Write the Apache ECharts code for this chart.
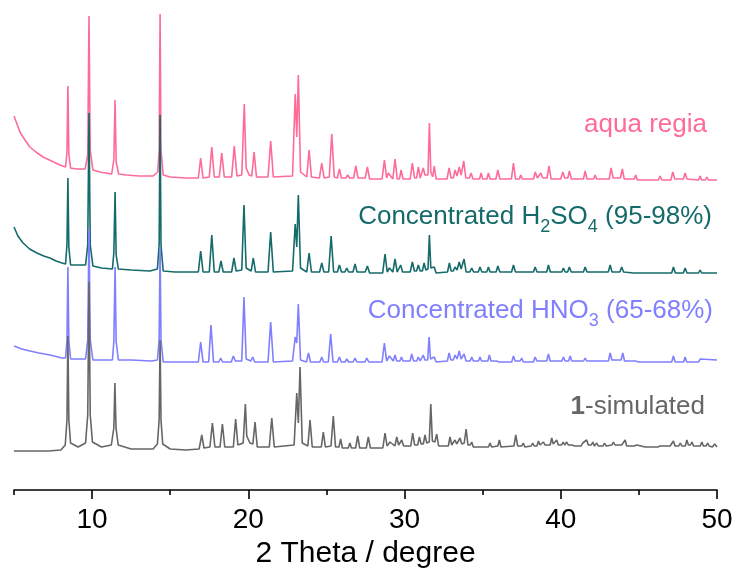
<!DOCTYPE html>
<html>
<head>
<meta charset="utf-8">
<title>PXRD</title>
<script src="https://cdn.jsdelivr.net/npm/echarts@6/dist/echarts.min.js"></script>
<style>
  html, body { margin: 0; padding: 0; background: #fff; }
  #chart { width: 739px; height: 576px; }
</style>
</head>
<body>
<div id="chart"></div>
<script>
// 2 theta ticks
const majorTicks = [10, 20, 30, 40, 50]
const minorTicks = [5, 15, 25, 35, 45]

// patterns as [2theta, intensity], already offset for stacking
const aquaRegia = [[5.0,374],[5.19,366],[5.38,358],[5.7,350],[6.02,343],[6.4,338],[6.86,333],[7.4,329],[7.94,325],[8.3,323],[8.39,338],[8.45,404],[8.51,336],[8.62,322],
  [9.0,321],[9.55,321],[9.72,335],[9.8,474],[9.88,340],[10.05,320],[10.5,318],
  [11.25,316],[11.39,330],[11.47,390],[11.54,328],[11.7,316],[12.2,315],[13.0,314],[13.9,314],[14.2,318],[14.29,340],[14.35,476],[14.41,340],[14.55,315],[15.0,313],[16.0,312],[16.8,312],
  [16.95,332],[17.1,312],[17.5,313],[17.66,343],[17.82,313],[18.14,313],[18.3,337],[18.46,313],[18.93,313],[19.1,344],[19.27,314],[19.58,315],[19.74,386],[19.86,322],[19.94,323],[20.05,315],[20.22,314],[20.37,338],[20.52,313],[21.26,313],[21.43,349],[21.6,313],[22.83,314],[23.0,396],[23.1,353],[23.2,415],[23.34,318],[23.74,313],[23.89,340],[24.04,313],[24.55,312],[24.7,327],[24.85,312],[25.18,313],[25.34,356],[25.5,313],[25.7,312],[25.83,321],[25.96,312],[26.24,312],[26.36,315],[26.48,312],[26.74,312],[26.88,324],[27.02,312],[27.48,312],[27.62,323],[27.76,311],[28.56,311],
  [28.71,330],[28.85,312],[28.96,317],[29.25,311],[29.39,331],[29.53,311],[29.67,311],[29.78,320],[29.9,311],[30.36,311],[30.5,327],[30.64,312],[30.77,312],[30.88,323],[31.0,312],[31.1,313],[31.2,322],[31.3,315],[31.5,315],[31.59,367],[31.68,318],[31.8,313],[31.9,324],[32.02,311],[32.72,311],[32.85,322],[32.98,312],[33.12,312],[33.23,320],[33.36,314],[33.5,323],[33.62,315],[33.79,329],[33.92,312],[34.15,312],[34.26,317],[34.38,311],[34.8,311],[34.9,317],[35.0,311],[35.27,311],[35.37,317],[35.47,311],[35.85,311],[35.97,320],[36.1,311],[36.84,311],[36.97,327],[37.1,311],[37.35,311],[37.44,315],[37.55,311],[38.25,311],[38.37,318],[38.5,312],[38.62,312],[38.72,317],[38.85,312],[39.12,312],[39.25,324],[39.38,311],[40.0,311],[40.13,318],[40.25,312],[40.45,312],[40.55,319],[40.68,311],[41.45,311],[41.56,319],[41.68,311],[42.1,311],[42.2,315],[42.3,311],[43.1,311],[43.22,322],[43.35,312],[43.82,312],[43.94,321],[44.06,311],[44.7,311],[44.8,315],[44.9,310],[46.25,310],[46.36,314],[46.47,310],[47.05,310],[47.17,318],[47.3,311],[47.85,311],[47.96,317],[48.08,311],[48.82,310],[48.92,314],[49.02,310],[49.25,310],[49.35,313],[49.45,310],[50.0,310]]

const h2so4 = [[5.0,263],[5.25,254],[5.58,247],[6.0,241],[6.47,237],[6.9,234],[7.3,232],[7.7,229],[8.07,227],[8.3,226],[8.39,245],[8.45,312],[8.51,243],[8.62,225],[9.1,225],[9.58,225],[9.72,245],[9.8,377],[9.88,245],[10.05,224],[10.6,222],[11.3,221],[11.39,237],[11.47,298],[11.54,235],[11.68,221],[12.5,220],[13.7,219],[14.18,221],[14.29,245],[14.35,375],[14.41,245],[14.55,219],[15.3,218],[16.8,218],
  [16.95,239],[17.1,218],[17.5,218],[17.66,255],[17.82,218],[18.11,218],[18.25,229],[18.39,218],[18.93,218],[19.08,232],[19.22,219],[19.58,220],[19.72,285],[19.86,222],[20.18,219],[20.32,232],[20.46,218],[21.26,218],[21.43,258],[21.6,218],[22.83,219],[23.0,266],[23.1,243],[23.2,295],[23.34,222],[23.74,218],[23.89,237],[24.04,218],[24.56,218],[24.7,227],[24.84,218],[25.14,218],[25.3,254],[25.46,218],[25.7,218],[25.83,225],[25.96,218],[26.18,218],[26.3,222],[26.42,218],[26.7,218],[26.83,226],[26.96,218],[27.48,218],[27.62,224],[27.76,217],[28.6,217],
  [28.75,236],[28.89,218],[29.03,222],[29.25,218],[29.39,231],[29.53,218],[29.64,218],[29.75,225],[29.87,218],[30.36,218],[30.5,228],[30.63,219],[30.77,219],[30.88,225],[31.0,219],[31.14,219],[31.25,227],[31.36,220],[31.5,221],[31.59,255],[31.68,222],[31.9,223],[32.02,217],[32.75,218],[32.87,227],[32.98,219],[33.12,219],[33.23,223],[33.36,220],[33.5,228],[33.62,221],[33.81,231],[33.94,218],[34.18,218],[34.3,222],[34.42,218],[34.72,218],[34.83,223],[34.95,218],[35.26,218],[35.37,223],[35.48,218],[35.86,218],[35.97,224],[36.1,218],[36.85,218],[36.97,225],[37.1,218],[38.25,218],[38.36,223],[38.48,218],[39.1,218],[39.21,225],[39.33,218],[40.06,218],[40.17,222],[40.28,218],[40.44,218],[40.55,223],[40.67,218],[41.45,218],[41.56,223],[41.68,218],[43.04,218],[43.16,225],[43.28,218],[43.78,218],[43.9,223],[44.02,218],[44.65,217],[44.76,219],[44.87,217],[47.1,217],[47.21,223],[47.33,217],[47.85,217],[47.96,222],[48.08,217],[48.82,217],[48.92,220],[49.02,217],[50.0,217]]

const hno3 = [[5.0,144],[5.5,141],[6.02,139],[6.6,137],[7.3,135],[8.07,132],[8.3,132],[8.39,150],[8.45,223],[8.51,150],[8.62,131],[9.1,131],[9.58,131],[9.72,150],[9.8,262],[9.88,150],[10.05,130],[10.6,130],[11.3,130],[11.39,148],[11.47,223],[11.54,148],[11.68,130],[12.5,130],[13.8,129],[14.18,130],[14.29,150],[14.35,243],[14.41,150],[14.55,128],[15.3,128],[16.8,128],
  [16.95,148],[17.1,128],[17.46,128],[17.61,165],[17.77,128],[18.11,128],[18.23,132],[18.35,128],[18.91,128],[19.04,134],[19.17,129],[19.58,129],[19.72,193],[19.86,131],[20.16,129],[20.28,133],[20.41,128],[21.26,128],[21.43,168],[21.6,128],[22.83,129],[23.0,153],[23.1,147],[23.2,186],[23.34,130],[23.72,128],[23.85,137],[23.98,128],[24.58,128],[24.7,133],[24.82,128],[25.12,128],[25.27,156],[25.42,128],[25.7,128],[25.83,133],[25.95,128],[26.19,128],[26.3,131],[26.41,128],[26.71,128],[26.83,132],[26.95,128],[27.46,128],[27.58,132],[27.71,128],[28.56,128],
  [28.71,147],[28.85,129],[29.03,134],[29.28,129],[29.39,135],[29.5,129],[29.7,129],[29.8,133],[29.9,129],[30.35,129],[30.46,136],[30.58,129],[30.78,129],[30.88,133],[31.0,129],[31.1,129],[31.2,135],[31.3,130],[31.48,130],[31.57,153],[31.66,131],[31.9,133],[32.02,128],[32.74,129],[32.85,137],[32.97,130],[33.12,130],[33.23,135],[33.36,131],[33.5,139],[33.62,131],[33.81,136],[33.94,129],[34.2,129],[34.3,133],[34.4,129],[34.73,129],[34.83,133],[34.93,129],[35.33,129],[35.43,135],[35.53,129],[35.87,129],[35.97,131],[36.07,128],[36.86,128],[36.97,134],[37.08,129],[37.4,129],[37.5,132],[37.6,128],[38.25,128],[38.36,133],[38.47,129],[39.1,129],[39.21,136],[39.32,129],[40.07,129],[40.17,133],[40.28,129],[40.5,129],[40.6,134],[40.7,129],[41.46,129],[41.56,132],[41.66,129],[43.05,129],[43.16,137],[43.27,130],[43.86,130],[43.97,137],[44.08,129],[44.78,129],[44.87,130],[44.96,128],[47.1,128],[47.21,134],[47.32,128],[47.86,128],[47.96,133],[48.06,128],[48.82,128],[48.92,131],[49.02,129],[50.0,130]]

const simulated = [[5.0,39],[7.2,39],[8.0,40],[8.28,45],[8.39,70],[8.45,154],[8.51,70],[8.62,47],[9.1,43],[9.58,47],[9.72,75],[9.8,208],[9.88,75],[10.02,48],[10.6,43],[11.23,45],[11.39,62],[11.46,107],[11.53,62],[11.67,45],[12.5,41],[13.9,41],[14.18,46],[14.29,70],[14.35,150],[14.41,70],[14.52,46],[15.0,41],[16.0,40],[16.85,41],
  [17.02,55],[17.16,42],[17.54,43],[17.7,67],[17.86,43],[18.19,43],[18.34,66],[18.49,43],[19.04,43],[19.19,71],[19.33,45],[19.67,47],[19.81,86],[19.9,54],[20.0,53],[20.1,47],[20.29,46],[20.43,68],[20.57,43],[21.34,43],[21.5,72],[21.66,43],[22.93,45],[23.1,97],[23.2,67],[23.31,123],[23.45,47],[23.81,44],[23.95,70],[24.09,43],[24.67,43],[24.8,58],[24.93,43],[25.29,44],[25.44,74],[25.58,43],[25.8,43],[25.91,51],[26.02,42],[26.4,42],[26.5,47],[26.6,42],[26.87,42],[27.0,54],[27.13,42],[27.55,42],[27.68,53],[27.81,42],[28.61,42],
  [28.75,57],[28.88,44],[29.07,48],[29.38,44],[29.5,53],[29.62,45],[29.72,45],[29.82,50],[29.94,44],[30.4,44],[30.52,57],[30.64,45],[30.84,45],[30.95,53],[31.06,46],[31.2,46],[31.31,55],[31.42,47],[31.58,48],[31.68,86],[31.78,49],[31.94,48],[32.06,56],[32.18,44],[32.8,44],[32.91,53],[33.02,45],[33.12,45],[33.23,50],[33.34,46],[33.45,46],[33.55,52],[33.66,46],[33.82,47],[33.94,61],[34.06,45],[34.2,45],[34.3,48],[34.4,43],[34.95,43],[35.05,45],[35.15,43],[35.37,43],[35.47,47],[35.57,43],[35.97,44],[36.07,50],[36.17,43],[37.0,44],[37.12,55],[37.24,44],[37.5,44],[37.6,47],[37.7,43],[38.1,44],[38.2,47],[38.3,44],[38.47,44],[38.57,49],[38.67,45],[38.79,45],[38.89,48],[38.99,45],[39.32,45],[39.42,52],[39.52,46],[39.64,46],[39.74,50],[39.84,45],[40.05,45],[40.15,48],[40.25,45],[40.38,48],[40.48,45],[40.7,45],[40.8,47],[40.9,44],[41.3,44],[41.4,47],[41.5,45],[41.66,50],[41.76,45],[41.95,45],[42.05,48],[42.15,44],[42.3,47],[42.4,44],[42.7,44],[42.8,47],[42.9,44],[43.27,45],[43.37,48],[43.47,45],[43.7,45],[43.8,47],[43.9,45],[44.02,45],[44.12,50],[44.22,44],[44.5,44],[44.6,46],[44.7,44],[44.87,45],[44.97,43],[45.4,43],[45.5,45],[45.6,43],[46.0,43],[46.1,45],[46.2,43],[46.36,44],[46.46,43],[46.8,44],[46.9,46],[47.0,44],[47.21,49],[47.31,44],[47.55,44],[47.65,47],[47.75,44],[47.97,44],[48.07,50],[48.17,45],[48.3,45],[48.4,48],[48.5,44],[48.93,44],[49.03,48],[49.13,44],[49.3,44],[49.4,47],[49.5,44],[49.56,45],[49.7,43],[49.85,46],[50.0,43]]

const colors = {
  aqua: '#ff6b97',
  h2so4: '#156a6a',
  hno3: '#7f7fff',
  sim: '#666666'
}

const FONT = '"Liberation Sans", Arial, sans-serif'

const chart = echarts.init(document.getElementById('chart'))

const lineSeries = (name, data, color) => ({
  name,
  type: 'line',
  data,
  showSymbol: false,
  symbol: 'none',
  lineStyle: { color, width: 1.6 },
  itemStyle: { color }
})

const option = {
  animation: false,
  backgroundColor: '#fff',
  grid: { left: 14, right: 22, top: 10, bottom: 86 },
  xAxis: [
    {
      type: 'value',
      min: 5,
      max: 50,
      interval: 5,
      position: 'bottom',
      name: '2 Theta / degree',
      nameLocation: 'middle',
      nameGap: 49,
      nameTextStyle: { color: '#000', fontSize: 30, fontFamily: FONT },
      axisLine: { lineStyle: { color: '#000', width: 1.6 } },
      axisTick: { customValues: majorTicks, length: 9, lineStyle: { color: '#000', width: 1.6 } },
      axisLabel: { customValues: majorTicks, color: '#000', fontSize: 28, fontFamily: FONT, margin: 16 },
      splitLine: { show: false }
    },
    {
      type: 'value',
      min: 5,
      max: 50,
      interval: 5,
      position: 'bottom',
      axisLine: { show: false },
      axisTick: { customValues: minorTicks, length: 5, lineStyle: { color: '#000', width: 1.6 } },
      axisLabel: { show: false },
      splitLine: { show: false }
    }
  ],
  yAxis: {
    type: 'value',
    min: 0,
    max: 480,
    show: false
  },
  series: [
    lineSeries('aqua regia', aquaRegia, colors.aqua),
    lineSeries('Concentrated H2SO4 (95-98%)', h2so4, colors.h2so4),
    lineSeries('Concentrated HNO3 (65-68%)', hno3, colors.hno3),
    lineSeries('1-simulated', simulated, colors.sim)
  ],
  graphic: [
    {
      type: 'text',
      style: {
        x: 707, y: 125, align: 'right', verticalAlign: 'middle',
        text: 'aqua regia', fill: colors.aqua, fontSize: 26, fontFamily: FONT
      }
    },
    {
      type: 'text',
      style: {
        x: 712, y: 217, align: 'right', verticalAlign: 'middle',
        text: '{m|Concentrated H}{s|2}{m|SO}{s|4}{m| (95-98%)}',
        fill: colors.h2so4,
        rich: {
          m: { fontSize: 26, fontFamily: FONT, lineHeight: 38, fill: colors.h2so4 },
          s: { fontSize: 18, fontFamily: FONT, lineHeight: 18, verticalAlign: 'bottom', fill: colors.h2so4 }
        }
      }
    },
    {
      type: 'text',
      style: {
        x: 713, y: 311, align: 'right', verticalAlign: 'middle',
        text: '{m|Concentrated HNO}{s|3}{m| (65-68%)}',
        fill: colors.hno3,
        rich: {
          m: { fontSize: 26, fontFamily: FONT, lineHeight: 38, fill: colors.hno3 },
          s: { fontSize: 18, fontFamily: FONT, lineHeight: 18, verticalAlign: 'bottom', fill: colors.hno3 }
        }
      }
    },
    {
      type: 'text',
      style: {
        x: 705, y: 407, align: 'right', verticalAlign: 'middle',
        text: '{b|1}{n|-simulated}',
        fill: colors.sim,
        rich: {
          b: { fontSize: 26, fontFamily: FONT, fontWeight: 'bold', fill: colors.sim },
          n: { fontSize: 26, fontFamily: FONT, fill: colors.sim }
        }
      }
    }
  ]
}

chart.setOption(option)
window.addEventListener('resize', () => chart.resize())
</script>
</body>
</html>
